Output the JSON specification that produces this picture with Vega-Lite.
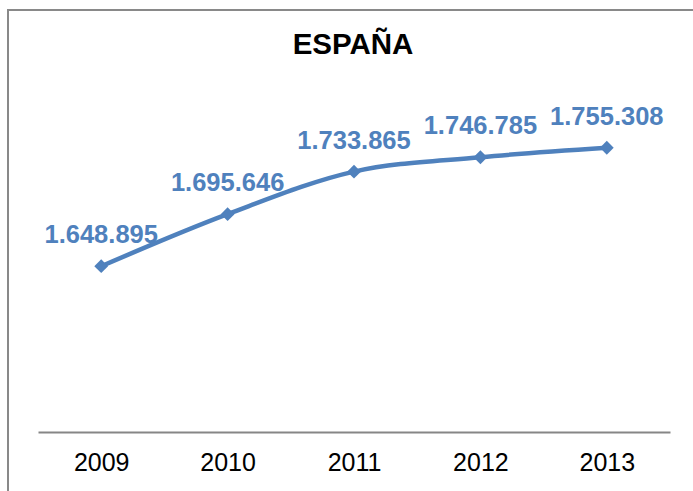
{
  "$schema": "https://vega.github.io/schema/vega-lite/v6.json",
  "padding": {"left": 8, "top": 10, "right": 0, "bottom": 0},
  "width": 686,
  "height": 482,
  "background": "white",
  "config": {
    "view": {"stroke": "#898989", "strokeWidth": 2},
    "font": "Liberation Sans",
    "locale": {"number": {"decimal": ",", "thousands": ".", "grouping": [3], "currency": ["", " €"]}}
  },
  "title": {
    "text": "ESPAÑA",
    "fontSize": 29.5,
    "fontWeight": "bold",
    "font": "Liberation Sans",
    "color": "#000000",
    "anchor": "middle",
    "baseline": "alphabetic",
    "offset": -73,
    "dx": 2
  },
  "data": {
    "values": [
      {"anio": "2009", "valor": 1648895},
      {"anio": "2010", "valor": 1695646},
      {"anio": "2011", "valor": 1733865},
      {"anio": "2012", "valor": 1746785},
      {"anio": "2013", "valor": 1755308}
    ]
  },
  "encoding": {
    "x": {
      "field": "anio",
      "type": "ordinal",
      "scale": {"type": "point", "range": [30, 662], "padding": 0.5},
      "axis": {
        "title": null,
        "orient": "bottom",
        "offset": -60,
        "domainColor": "#868686",
        "domainWidth": 2,
        "ticks": false,
        "labelAngle": 0,
        "labelFontSize": 25,
        "labelFont": "Liberation Sans",
        "labelColor": "#000000",
        "labelPadding": 18,
        "grid": false
      }
    },
    "y": {
      "field": "valor",
      "type": "quantitative",
      "scale": {"domain": [1500000, 1800000], "range": [422, 88], "zero": false, "nice": false},
      "axis": null
    }
  },
  "layer": [
    {
      "mark": {"type": "line", "color": "#4F81BD", "strokeWidth": 4.5, "interpolate": "monotone"}
    },
    {
      "mark": {"type": "point", "shape": "diamond", "filled": true, "size": 190, "color": "#4F81BD", "opacity": 1}
    },
    {
      "mark": {"type": "text", "dy": -23, "baseline": "alphabetic", "align": "center", "fontSize": 25.5, "fontWeight": "bold", "font": "Liberation Sans", "color": "#4F81BD"},
      "encoding": {"text": {"field": "valor", "type": "quantitative", "format": ",d"}}
    }
  ]
}
